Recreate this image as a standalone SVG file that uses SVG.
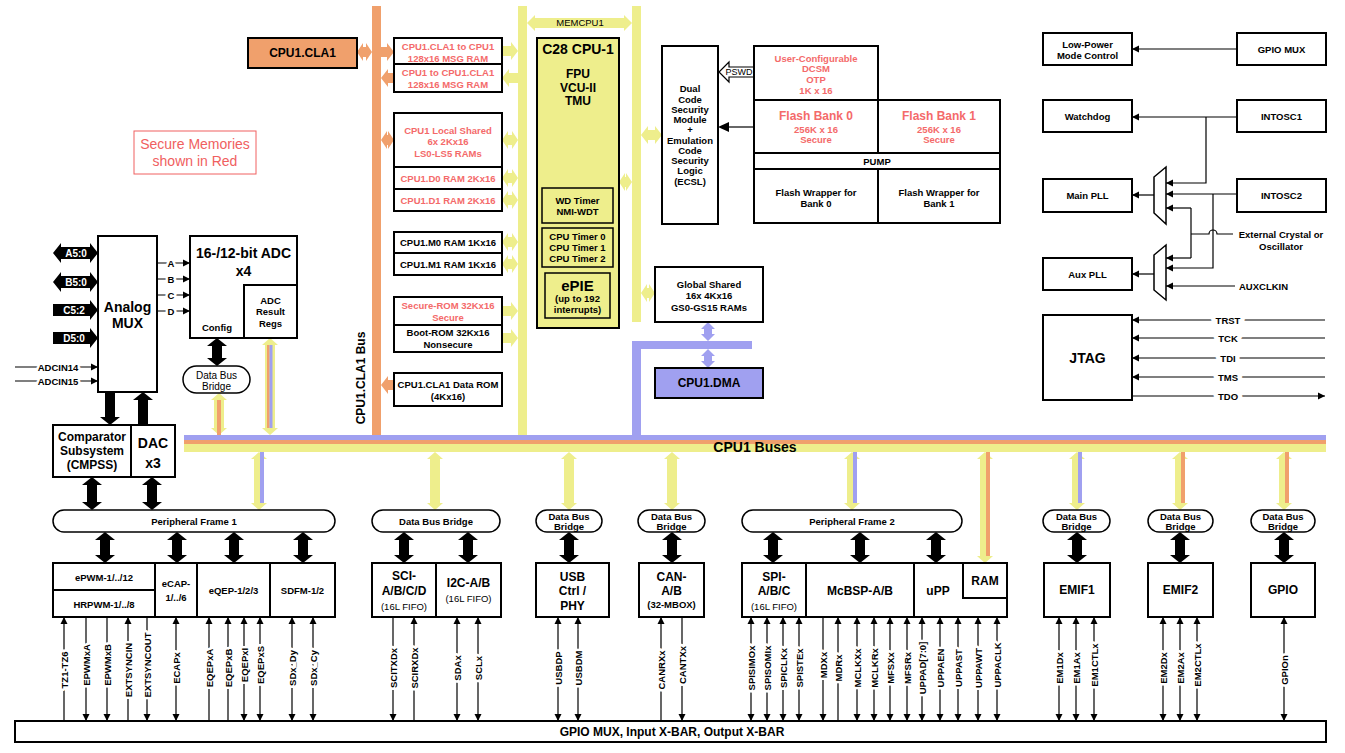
<svg xmlns="http://www.w3.org/2000/svg" width="1345" height="753" viewBox="0 0 1345 753">
<defs>
<style>
text{font-family:"Liberation Sans",Arial,Helvetica,sans-serif;font-weight:bold;font-size:9.5px;text-anchor:middle;dominant-baseline:central;fill:#000}
.bx{fill:#fff;stroke:#000;stroke-width:2}
.red{fill:#F46A6A}
.nw{font-weight:normal}
.f9{font-size:9px}
.sg{font-size:10.5px}
.f12{font-size:12px}
.f14{font-size:14px}
.ln{stroke:#000;stroke-width:1.2;fill:none}
.ae{marker-end:url(#ah)}
.as{marker-start:url(#ah)}
.Y{fill:#EEEE8C}
.O{fill:#F0A06C}
.P{fill:#A0A0F0}
.halo{stroke:#fff;stroke-width:5;paint-order:stroke;stroke-linejoin:round}
.pill{fill:#fff;stroke:#000;stroke-width:1.5}
.st{text-anchor:start}
</style>
<marker id="ah" viewBox="0 0 10 10" refX="10" refY="5" markerWidth="6" markerHeight="6" orient="auto-start-reverse"><path d="M0,0 L10,5 L0,10 z"/></marker>
<path id="ba" d="M0,0 l10,8 h-5 v15 h5 l-10,8 l-10,-8 h5 v-15 h-5 z"/>
<path id="yr" d="M0,-5 h9 v-4 l7,9 l-7,9 v-4 h-9 z"/>
<path id="yl" d="M16,-5 h-9 v-4 l-7,9 l7,9 v-4 h9 z"/>
<path id="yd" d="M0,0 l6,-9 v4 h4 v-4 l6,9 l-6,9 v-4 h-4 v4 z"/>
<path id="yv" d="M0,0 l8,7 h-3 v44 h3 l-8,7 l-8,-7 h3 v-44 h-3 z"/>
</defs>

<!-- buses -->
<g id="buses">
<rect class="O" x="372" y="6" width="9" height="434"/>
<rect class="Y" x="518" y="6" width="9" height="438"/>
<rect class="Y" x="632" y="6" width="9" height="316"/>
<path class="Y" d="M527,23 l8,-8 v3 h89 v-3 l8,8 l-8,8 v-3 h-89 v3 z"/>
<text class="nw" x="580" y="22">MEMCPU1</text>
<rect class="P" x="632" y="341" width="9" height="99"/>
<rect class="P" x="632" y="341" width="120" height="8"/>
<rect class="P" x="184" y="435" width="1142" height="5"/>
<rect class="O" x="184" y="440" width="1142" height="4"/>
<rect class="Y" x="184" y="444" width="1142" height="8"/>
<text class="f14" x="755" y="447">CPU1 Buses</text>
<text class="f12" transform="translate(361,378) rotate(-90)">CPU1.CLA1 Bus</text>
</g>

<!-- connectors -->
<g id="connectors">
<path class="O" d="M357,52 l6,-9 v4 h3 v-4 l6,9 l-6,9 v-4 h-3 v4 z"/>
<path class="O" d="M381,47 h6 v-4 l7,9 l-7,9 v-4 h-6 z"/>
<path class="O" d="M394,73 h-6 v-4 l-7,9 l7,9 v-4 h6 z"/>
<path class="O" d="M381,140 l6,-9 v4 h1 v-4 l6,9 l-6,9 v-4 h-1 v4 z"/>
<path class="O" d="M394,380 h-6 v-4 l-7,9 l7,9 v-4 h6 z"/>
<use href="#yr" x="502" y="51" class="Y"/>
<use href="#yl" x="502" y="78" class="Y"/>
<use href="#yd" x="502" y="140" class="Y"/>
<use href="#yd" x="502" y="178" class="Y"/>
<use href="#yd" x="502" y="200" class="Y"/>
<use href="#yd" x="502" y="242" class="Y"/>
<use href="#yd" x="502" y="264" class="Y"/>
<use href="#yr" x="502" y="311" class="Y"/>
<use href="#yr" x="502" y="338" class="Y"/>
<path class="Y" d="M641,135 l7,-9 v4 h7 v-4 l7,9 l-7,9 v-4 h-7 v4 z"/>
<path class="Y" d="M619,182 l6,-9 v4 h1 v-4 l6,9 l-6,9 v-4 h-1 v4 z"/>
<path class="Y" d="M641,293 l6,-9 v4 h2 v-4 l6,9 l-6,9 v-4 h-2 v4 z"/>
<path class="P" d="M708,322 l7,7 h-3 v5 h3 l-7,7 l-7,-7 h3 v-5 h-3 z"/>
<path class="P" d="M708,349 l7,7 h-3 v5 h3 l-7,7 l-7,-7 h3 v-5 h-3 z"/>
<polygon points="754,67 729,67 729,62 719,72 729,82 729,77 754,77" fill="#fff" stroke="#000" stroke-width="1.2"/>
<text class="nw f9" x="739" y="72">PSWD</text>
<path class="ln" d="M754,127 H728"/>
<polygon points="718,127 729,122 729,132"/>
<path class="Y" d="M219,393 l8,7 h-3 v28 h3 l-8,7 l-8,-7 h3 v-28 h-3 z"/>
<rect class="O" x="217" y="400" width="4" height="35"/>
<path class="Y" d="M270,338 l8,7 h-3 v83 h3 l-8,7 l-8,-7 h3 v-83 h-3 z"/>
<rect class="O" x="267" y="345" width="2.5" height="83"/>
<rect class="P" x="269.5" y="345" width="3" height="83"/>
<path d="M217,338 l10,8 h-5 v12 h5 l-10,8 l-10,-8 h5 v-12 h-5 z"/>
<path d="M105,392 h10 v25 h5 l-10,8 l-10,-8 h5 z"/>
<path d="M143,392 l10,8 h-5 v25 h-10 v-25 h-5 z"/>
<path d="M92,477 l10,8 h-5 v17 h5 l-10,8 l-10,-8 h5 v-17 h-5 z"/>
<path d="M152,477 l10,8 h-5 v17 h5 l-10,8 l-10,-8 h5 v-17 h-5 z"/>
<path class="ln ae" d="M157,263 H190"/>
<path class="ln ae" d="M157,279 H190"/>
<path class="ln ae" d="M157,295 H190"/>
<path class="ln ae" d="M157,311 H190"/>
<text class="halo" x="171" y="263">A</text>
<text class="halo" x="171" y="279">B</text>
<text class="halo" x="171" y="295">C</text>
<text class="halo" x="171" y="311">D</text>
<path class="ln ae" d="M15,367 H98"/>
<path class="ln ae" d="M15,381 H98"/>
<text class="halo" x="58" y="367">ADCIN14</text>
<text class="halo" x="58" y="381">ADCIN15</text>
<use href="#yv" x="259" y="452" class="Y"/><rect class="P" x="260" y="452" width="4" height="51"/>
<use href="#yv" x="435" y="452" class="Y"/>
<use href="#yv" x="569" y="452" class="Y"/>
<use href="#yv" x="672" y="452" class="Y"/>
<use href="#yv" x="852" y="452" class="Y"/><rect class="P" x="853" y="452" width="4" height="51"/>
<use href="#yv" x="1077" y="452" class="Y"/><rect class="P" x="1078" y="452" width="4" height="51"/>
<use href="#yv" x="1180" y="452" class="Y"/><rect class="O" x="1181" y="452" width="4" height="51"/>
<use href="#yv" x="1284" y="452" class="Y"/><rect class="O" x="1285" y="452" width="4" height="51"/>
<path class="Y" d="M985,452 l8,7 h-3 v97 h3 l-8,7 l-8,-7 h3 v-97 h-3 z"/>
<rect class="O" x="986" y="452" width="4" height="104"/>
<use href="#ba" x="105" y="532"/>
<use href="#ba" x="177" y="532"/>
<use href="#ba" x="234" y="532"/>
<use href="#ba" x="303" y="532"/>
<use href="#ba" x="404" y="532"/>
<use href="#ba" x="468" y="532"/>
<use href="#ba" x="569" y="532"/>
<use href="#ba" x="672" y="532"/>
<use href="#ba" x="773" y="532"/>
<use href="#ba" x="860" y="532"/>
<use href="#ba" x="936" y="532"/>
<use href="#ba" x="1077" y="532"/>
<use href="#ba" x="1180" y="532"/>
<use href="#ba" x="1284" y="532"/>
<path class="ln ae" d="M1237,49 H1132"/>
<path class="ln ae" d="M1237,117 H1132"/>
<path class="ln ae" d="M1206,117 V183 H1166"/>
<path class="ln ae" d="M1237,194 H1166"/>
<path class="ln ae" d="M1213,194 V268 H1166"/>
<path class="ln" d="M1233,234 H1217 a4,4 0 0 0 -8,0 H1191 M1191,208 V258"/>
<path class="ln ae" d="M1191,208 H1166"/>
<path class="ln ae" d="M1191,258 H1166"/>
<path class="ln ae" d="M1235,286 H1166"/>
<path class="ln ae" d="M1154,195 H1132"/>
<path class="ln ae" d="M1154,274 H1132"/>
<path class="ln ae" d="M1325,320 H1132"/>
<path class="ln ae" d="M1325,338 H1132"/>
<path class="ln ae" d="M1325,358 H1132"/>
<path class="ln ae" d="M1325,377 H1132"/>
<path class="ln ae" d="M1132,396 H1325"/>
<g class="f9">
<text class="halo" style="stroke-width:9" x="1228" y="320">TRST</text>
<text class="halo" style="stroke-width:9" x="1228" y="338">TCK</text>
<text class="halo" style="stroke-width:9" x="1228" y="358">TDI</text>
<text class="halo" style="stroke-width:9" x="1228" y="377">TMS</text>
<text class="halo" style="stroke-width:9" x="1228" y="396">TDO</text>
</g>
<g>
<path class="ln as" d="M64,617 V721"/>
<path class="ln ae" d="M86,617 V721"/>
<path class="ln ae" d="M107,617 V721"/>
<path class="ln as" d="M128,617 V721"/>
<path class="ln ae" d="M147,617 V721"/>
<path class="ln as ae" d="M176,617 V721"/>
<path class="ln as" d="M209,617 V721"/>
<path class="ln as" d="M228,617 V721"/>
<path class="ln as ae" d="M244,617 V721"/>
<path class="ln as ae" d="M260,617 V721"/>
<path class="ln as ae" d="M292,617 V721"/>
<path class="ln as ae" d="M313,617 V721"/>
<path class="ln ae" d="M393,617 V721"/>
<path class="ln as" d="M414,617 V721"/>
<path class="ln as ae" d="M457,617 V721"/>
<path class="ln as ae" d="M478,617 V721"/>
<path class="ln as ae" d="M558,617 V721"/>
<path class="ln as ae" d="M578,617 V721"/>
<path class="ln as" d="M661,617 V721"/>
<path class="ln ae" d="M682,617 V721"/>
<path class="ln as ae" d="M751,617 V721"/>
<path class="ln as ae" d="M767,617 V721"/>
<path class="ln as ae" d="M783,617 V721"/>
<path class="ln as ae" d="M799,617 V721"/>
<path class="ln ae" d="M823,617 V721"/>
<path class="ln as" d="M838,617 V721"/>
<path class="ln as ae" d="M857,617 V721"/>
<path class="ln as ae" d="M874,617 V721"/>
<path class="ln as ae" d="M890,617 V721"/>
<path class="ln as ae" d="M907,617 V721"/>
<path class="ln as ae" d="M922,617 V721"/>
<path class="ln as ae" d="M940,617 V721"/>
<path class="ln as ae" d="M958,617 V721"/>
<path class="ln as ae" d="M978,617 V721"/>
<path class="ln as ae" d="M997,617 V721"/>
<path class="ln as ae" d="M1059,617 V721"/>
<path class="ln as ae" d="M1076,617 V721"/>
<path class="ln as ae" d="M1094,617 V721"/>
<path class="ln as ae" d="M1163,617 V721"/>
<path class="ln as ae" d="M1180,617 V721"/>
<path class="ln as ae" d="M1197,617 V721"/>
<path class="ln as ae" d="M1284,617 V721"/>
</g>
<g class="sg">
<text class="halo" transform="translate(64,670) rotate(-90)">TZ1-TZ6</text>
<text class="halo" transform="translate(86,665) rotate(-90)">EPWMxA</text>
<text class="halo" transform="translate(107,665) rotate(-90)">EPWMxB</text>
<text class="halo" transform="translate(128,670) rotate(-90)">EXTSYNCIN</text>
<text class="halo" transform="translate(147,665) rotate(-90)">EXTSYNCOUT</text>
<text class="halo" transform="translate(176,668) rotate(-90)">ECAPx</text>
<text class="halo" transform="translate(209,668) rotate(-90)">EQEPxA</text>
<text class="halo" transform="translate(228,668) rotate(-90)">EQEPxB</text>
<text class="halo" transform="translate(244,665) rotate(-90)">EQEPxI</text>
<text class="halo" transform="translate(260,665) rotate(-90)">EQEPxS</text>
<text class="halo" transform="translate(292,668) rotate(-90)">SDx_Dy</text>
<text class="halo" transform="translate(313,668) rotate(-90)">SDx_Cy</text>
<text class="halo" transform="translate(393,668) rotate(-90)">SCITXDx</text>
<text class="halo" transform="translate(414,668) rotate(-90)">SCIRXDx</text>
<text class="halo" transform="translate(457,668) rotate(-90)">SDAx</text>
<text class="halo" transform="translate(478,668) rotate(-90)">SCLx</text>
<text class="halo" transform="translate(558,668) rotate(-90)">USBDP</text>
<text class="halo" transform="translate(578,668) rotate(-90)">USBDM</text>
<text class="halo" transform="translate(661,670) rotate(-90)">CANRXx</text>
<text class="halo" transform="translate(682,665) rotate(-90)">CANTXx</text>
<text class="halo" transform="translate(751,668) rotate(-90)">SPISIMOx</text>
<text class="halo" transform="translate(767,668) rotate(-90)">SPISOMIx</text>
<text class="halo" transform="translate(783,668) rotate(-90)">SPICLKx</text>
<text class="halo" transform="translate(799,668) rotate(-90)">SPISTEx</text>
<text class="halo" transform="translate(823,665) rotate(-90)">MDXx</text>
<text class="halo" transform="translate(838,668) rotate(-90)">MDRx</text>
<text class="halo" transform="translate(857,668) rotate(-90)">MCLKXx</text>
<text class="halo" transform="translate(874,668) rotate(-90)">MCLKRx</text>
<text class="halo" transform="translate(890,668) rotate(-90)">MFSXx</text>
<text class="halo" transform="translate(907,668) rotate(-90)">MFSRx</text>
<text class="halo" transform="translate(922,668) rotate(-90)">UPPAD[7:0]</text>
<text class="halo" transform="translate(940,668) rotate(-90)">UPPAEN</text>
<text class="halo" transform="translate(958,668) rotate(-90)">UPPAST</text>
<text class="halo" transform="translate(978,668) rotate(-90)">UPPAWT</text>
<text class="halo" transform="translate(997,665) rotate(-90)">UPPACLK</text>
<text class="halo" transform="translate(1059,668) rotate(-90)">EM1Dx</text>
<text class="halo" transform="translate(1076,668) rotate(-90)">EM1Ax</text>
<text class="halo" transform="translate(1094,665) rotate(-90)">EM1CTLx</text>
<text class="halo" transform="translate(1163,668) rotate(-90)">EM2Dx</text>
<text class="halo" transform="translate(1180,668) rotate(-90)">EM2Ax</text>
<text class="halo" transform="translate(1197,665) rotate(-90)">EM2CTLx</text>
<text class="halo" transform="translate(1284,670) rotate(-90)">GPIOn</text>
</g>
</g>

<!-- nodes -->
<g id="cla1"><rect class="O" x="248" y="38" width="109" height="30" stroke="#000" stroke-width="2"/><text class="f12" x="302.5" y="53">CPU1.CLA1</text></g>
<g id="secure-note"><rect x="134" y="131" width="122" height="43" fill="none" stroke="#F06060" stroke-width="1"/><text class="nw" style="font-size:14px;fill:#F06060" x="195" y="144">Secure Memories</text><text class="nw" style="font-size:14px;fill:#F06060" x="195" y="161">shown in Red</text></g>

<g id="msg1"><rect class="bx" x="394" y="38" width="108" height="26"/><text class="red" x="448" y="46">CPU1.CLA1 to CPU1</text><text class="red" x="448" y="58">128x16 MSG RAM</text></g>
<g id="msg2"><rect class="bx" x="394" y="64" width="108" height="28"/><text class="red" x="448" y="72">CPU1 to CPU1.CLA1</text><text class="red" x="448" y="84">128x16 MSG RAM</text></g>
<g id="ls"><rect class="bx" x="394" y="113" width="108" height="54"/><text class="red" x="448" y="130">CPU1 Local Shared</text><text class="red" x="448" y="141">6x 2Kx16</text><text class="red" x="448" y="153">LS0-LS5 RAMs</text></g>
<g id="d0"><rect class="bx" x="394" y="167" width="108" height="22"/><text class="red" x="448" y="178">CPU1.D0 RAM 2Kx16</text></g>
<g id="d1"><rect class="bx" x="394" y="189" width="108" height="22"/><text class="red" x="448" y="200">CPU1.D1 RAM 2Kx16</text></g>
<g id="m0"><rect class="bx" x="394" y="232" width="108" height="21"/><text x="448" y="242.5">CPU1.M0 RAM 1Kx16</text></g>
<g id="m1"><rect class="bx" x="394" y="253" width="108" height="22"/><text x="448" y="264">CPU1.M1 RAM 1Kx16</text></g>
<g id="secrom"><rect class="bx" x="394" y="297" width="108" height="28"/><text class="red" x="448" y="305">Secure-ROM 32Kx16</text><text class="red" x="448" y="317">Secure</text></g>
<g id="bootrom"><rect class="bx" x="394" y="325" width="108" height="27"/><text x="448" y="332.5">Boot-ROM 32Kx16</text><text x="448" y="344">Nonsecure</text></g>
<g id="claroom"><rect class="bx" x="394" y="373" width="108" height="33"/><text x="448" y="384">CPU1.CLA1 Data ROM</text><text x="448" y="396">(4Kx16)</text></g>

<g id="cpu"><rect class="Y" x="537" y="38" width="82" height="290" stroke="#000" stroke-width="2"/>
<text class="f14" x="578" y="49">C28 CPU-1</text>
<text class="f12" x="578" y="74">FPU</text><text class="f12" x="578" y="88">VCU-II</text><text class="f12" x="578" y="101">TMU</text>
<rect x="542" y="188" width="71" height="35" fill="none" stroke="#000" stroke-width="1.5"/>
<text x="577.5" y="200">WD Timer</text><text x="577.5" y="211">NMI-WDT</text>
<rect x="542" y="228" width="71" height="39" fill="none" stroke="#000" stroke-width="1.5"/>
<text x="577.5" y="236">CPU Timer 0</text><text x="577.5" y="247">CPU Timer 1</text><text x="577.5" y="258">CPU Timer 2</text>
<rect x="545" y="273" width="65" height="45" fill="none" stroke="#000" stroke-width="1.5"/>
<text style="font-size:15px" x="577.5" y="285">ePIE</text><text x="577.5" y="298">(up to 192</text><text x="577.5" y="309">interrupts)</text>
</g>

<g id="dcsm"><rect class="bx" x="662" y="46" width="56" height="178"/>
<text x="690" y="88">Dual</text><text x="690" y="99">Code</text><text x="690" y="109">Security</text><text x="690" y="119">Module</text><text x="690" y="129">+</text><text x="690" y="140">Emulation</text><text x="690" y="150">Code</text><text x="690" y="160">Security</text><text x="690" y="170">Logic</text><text x="690" y="181">(ECSL)</text>
</g>
<g id="otp"><rect class="bx" x="754" y="46" width="124" height="54"/><text class="red" x="816" y="58">User-Configurable</text><text class="red" x="816" y="68">DCSM</text><text class="red" x="816" y="79">OTP</text><text class="red" x="816" y="90">1K x 16</text></g>
<g id="flash"><rect class="bx" x="754" y="100" width="246" height="123"/>
<line x1="878" y1="100" x2="878" y2="153" stroke="#000" stroke-width="2"/>
<line x1="754" y1="153" x2="1000" y2="153" stroke="#000" stroke-width="2"/>
<line x1="754" y1="169" x2="1000" y2="169" stroke="#000" stroke-width="2"/>
<line x1="878" y1="169" x2="878" y2="223" stroke="#000" stroke-width="2"/>
<text class="red f12" x="816" y="116">Flash Bank 0</text><text class="red" x="816" y="129">256K x 16</text><text class="red" x="816" y="139">Secure</text>
<text class="red f12" x="939" y="116">Flash Bank 1</text><text class="red" x="939" y="129">256K x 16</text><text class="red" x="939" y="139">Secure</text>
<text x="877" y="161.5">PUMP</text>
<text x="816" y="192">Flash Wrapper for</text><text x="816" y="203">Bank 0</text>
<text x="939" y="192">Flash Wrapper for</text><text x="939" y="203">Bank 1</text>
</g>
<g id="gs"><rect class="bx" x="655" y="267" width="108" height="55"/><text x="709" y="284">Global Shared</text><text x="709" y="295">16x 4Kx16</text><text x="709" y="307">GS0-GS15 RAMs</text></g>
<g id="dma"><rect class="P" x="655" y="368" width="108" height="30" stroke="#000" stroke-width="2"/><text class="f12" x="709" y="383">CPU1.DMA</text></g>

<g id="ports">
<path d="M53,253 l8,-10 v4 h29 v-4 l8,10 l-8,10 v-4 h-29 v4 z"/><text x="76" y="253" style="fill:#fff;font-size:10px">A5:0</text>
<path d="M53,282 l8,-10 v4 h29 v-4 l8,10 l-8,10 v-4 h-29 v4 z"/><text x="76" y="282" style="fill:#fff;font-size:10px">B5:0</text>
<path d="M53,304 h37 v-4 l8,10 l-8,10 v-4 h-37 z"/><text x="74" y="310" style="fill:#fff;font-size:10px">C5:2</text>
<path d="M53,332 h37 v-4 l8,10 l-8,10 v-4 h-37 z"/><text x="74" y="338" style="fill:#fff;font-size:10px">D5:0</text>
</g>
<g id="amux"><rect class="bx" x="98" y="236" width="59" height="156"/><text class="f14" x="127.5" y="307">Analog</text><text class="f14" x="127.5" y="323">MUX</text></g>
<g id="adc"><rect class="bx" x="190" y="236" width="107" height="102"/><text class="f14" x="243.5" y="253">16-/12-bit ADC</text><text class="f14" x="243.5" y="271">x4</text>
<rect x="244" y="285" width="53" height="53" fill="none" stroke="#000" stroke-width="2"/><text x="270.5" y="300">ADC</text><text x="270.5" y="311">Result</text><text x="270.5" y="323">Regs</text><text x="217" y="327">Config</text></g>
<g id="adcbridge"><rect class="pill" x="183" y="366" width="67" height="27" rx="13.5"/><text class="nw" style="font-size:10px" x="216.5" y="375">Data Bus</text><text class="nw" style="font-size:10px" x="216.5" y="386">Bridge</text></g>
<g id="cmpss"><rect class="bx" x="53" y="425" width="78" height="52"/><text class="f12" x="92" y="437">Comparator</text><text class="f12" x="92" y="451">Subsystem</text><text class="f12" x="92" y="465">(CMPSS)</text></g>
<g id="dac"><rect class="bx" x="131" y="425" width="44" height="52"/><text class="f14" x="153" y="443">DAC</text><text class="f14" x="153" y="463">x3</text></g>

<g id="pf1"><rect class="pill" x="53" y="510" width="282" height="22" rx="11"/><text x="194" y="521">Peripheral Frame 1</text></g>
<g id="br-sci"><rect class="pill" x="372" y="510" width="128" height="22" rx="11"/><text x="436" y="521">Data Bus Bridge</text></g>
<g id="br-usb"><rect class="pill" x="536" y="510" width="66" height="22" rx="11"/><text x="569" y="516">Data Bus</text><text x="569" y="526">Bridge</text></g>
<g id="br-can"><rect class="pill" x="638" y="510" width="67" height="22" rx="11"/><text x="671.5" y="516">Data Bus</text><text x="671.5" y="526">Bridge</text></g>
<g id="pf2"><rect class="pill" x="742" y="510" width="220" height="22" rx="11"/><text x="852" y="521">Peripheral Frame 2</text></g>
<g id="br-emif1"><rect class="pill" x="1043" y="510" width="67" height="22" rx="11"/><text x="1076.5" y="516">Data Bus</text><text x="1076.5" y="526">Bridge</text></g>
<g id="br-emif2"><rect class="pill" x="1148" y="510" width="65" height="22" rx="11"/><text x="1180.5" y="516">Data Bus</text><text x="1180.5" y="526">Bridge</text></g>
<g id="br-gpio"><rect class="pill" x="1251" y="510" width="64" height="22" rx="11"/><text x="1283" y="516">Data Bus</text><text x="1283" y="526">Bridge</text></g>

<g id="epwm"><rect class="bx" x="53" y="563" width="102" height="54"/><line x1="53" y1="590" x2="155" y2="590" stroke="#000" stroke-width="2"/><text x="104" y="577">ePWM-1/../12</text><text x="104" y="604">HRPWM-1/../8</text></g>
<g id="ecap"><rect class="bx" x="155" y="563" width="42" height="54"/><text x="176" y="583">eCAP-</text><text x="176" y="597">1/../6</text></g>
<g id="eqep"><rect class="bx" x="197" y="563" width="73" height="54"/><text x="233.5" y="590">eQEP-1/2/3</text></g>
<g id="sdfm"><rect class="bx" x="270" y="563" width="65" height="54"/><text x="302.5" y="590">SDFM-1/2</text></g>
<g id="sci"><rect class="bx" x="372" y="563" width="64" height="54"/><text class="f12" x="404" y="576">SCI-</text><text class="f12" x="404" y="591">A/B/C/D</text><text class="nw" x="404" y="606">(16L FIFO)</text></g>
<g id="i2c"><rect class="bx" x="436" y="563" width="65" height="54"/><text class="f12" x="468.5" y="583">I2C-A/B</text><text class="nw" x="468.5" y="598">(16L FIFO)</text></g>
<g id="usb"><rect class="bx" x="536" y="563" width="73" height="54"/><text class="f12" x="572.5" y="577">USB</text><text class="f12" x="572.5" y="591">Ctrl /</text><text class="f12" x="572.5" y="606">PHY</text></g>
<g id="can"><rect class="bx" x="639" y="563" width="65" height="54"/><text class="f12" x="671.5" y="577">CAN-</text><text class="f12" x="671.5" y="591">A/B</text><text x="671.5" y="604">(32-MBOX)</text></g>
<g id="spi"><rect class="bx" x="742" y="563" width="64" height="54"/><text class="f12" x="774" y="577">SPI-</text><text class="f12" x="774" y="591">A/B/C</text><text class="nw" x="774" y="606">(16L FIFO)</text></g>
<g id="mcbsp"><rect class="bx" x="806" y="563" width="108" height="54"/><text class="f12" x="860" y="591">McBSP-A/B</text></g>
<g id="upp"><rect class="bx" x="914" y="563" width="93" height="54"/><text class="f12" x="938" y="591">uPP</text><rect x="963" y="563" width="44" height="35" fill="none" stroke="#000" stroke-width="2"/><text class="f12" x="985" y="581">RAM</text></g>
<g id="emif1"><rect class="bx" x="1044" y="563" width="66" height="54"/><text class="f12" x="1077" y="590">EMIF1</text></g>
<g id="emif2"><rect class="bx" x="1148" y="563" width="65" height="54"/><text class="f12" x="1180.5" y="590">EMIF2</text></g>
<g id="gpio"><rect class="bx" x="1251" y="563" width="64" height="54"/><text class="f12" x="1283" y="590">GPIO</text></g>
<g id="gpiomux"><rect class="bx" x="15" y="721" width="1311" height="21"/><text class="f12" x="672" y="732">GPIO MUX, Input X-BAR, Output X-BAR</text></g>

<g id="lpm"><rect class="bx" x="1043" y="33" width="89" height="32"/><text x="1087.5" y="44">Low-Power</text><text x="1087.5" y="55">Mode Control</text></g>
<g id="gpiomux2"><rect class="bx" x="1237" y="33" width="89" height="32"/><text x="1281.5" y="49">GPIO MUX</text></g>
<g id="wd"><rect class="bx" x="1043" y="100" width="89" height="32"/><text x="1087.5" y="116">Watchdog</text></g>
<g id="intosc1"><rect class="bx" x="1237" y="100" width="89" height="32"/><text x="1281.5" y="116">INTOSC1</text></g>
<g id="mainpll"><rect class="bx" x="1043" y="179" width="89" height="33"/><text x="1087.5" y="195.5">Main PLL</text></g>
<g id="intosc2"><rect class="bx" x="1237" y="179" width="89" height="33"/><text x="1281.5" y="195.5">INTOSC2</text></g>
<g id="auxpll"><rect class="bx" x="1043" y="258" width="89" height="32"/><text x="1087.5" y="274">Aux PLL</text></g>
<g id="mux1"><polygon points="1154,177 1166,167 1166,224 1154,213" fill="#fff" stroke="#000" stroke-width="1.5"/></g>
<g id="mux2"><polygon points="1154,255 1166,245 1166,300 1154,290" fill="#fff" stroke="#000" stroke-width="1.5"/></g>
<g id="extosc"><text x="1281" y="234">External Crystal or</text><text x="1281" y="246">Oscillator</text></g>
<g id="auxclkin"><text class="st" x="1239" y="286">AUXCLKIN</text></g>
<g id="jtag"><rect class="bx" x="1043" y="315" width="89" height="85"/><text class="f14" x="1087.5" y="358">JTAG</text></g>
</svg>
